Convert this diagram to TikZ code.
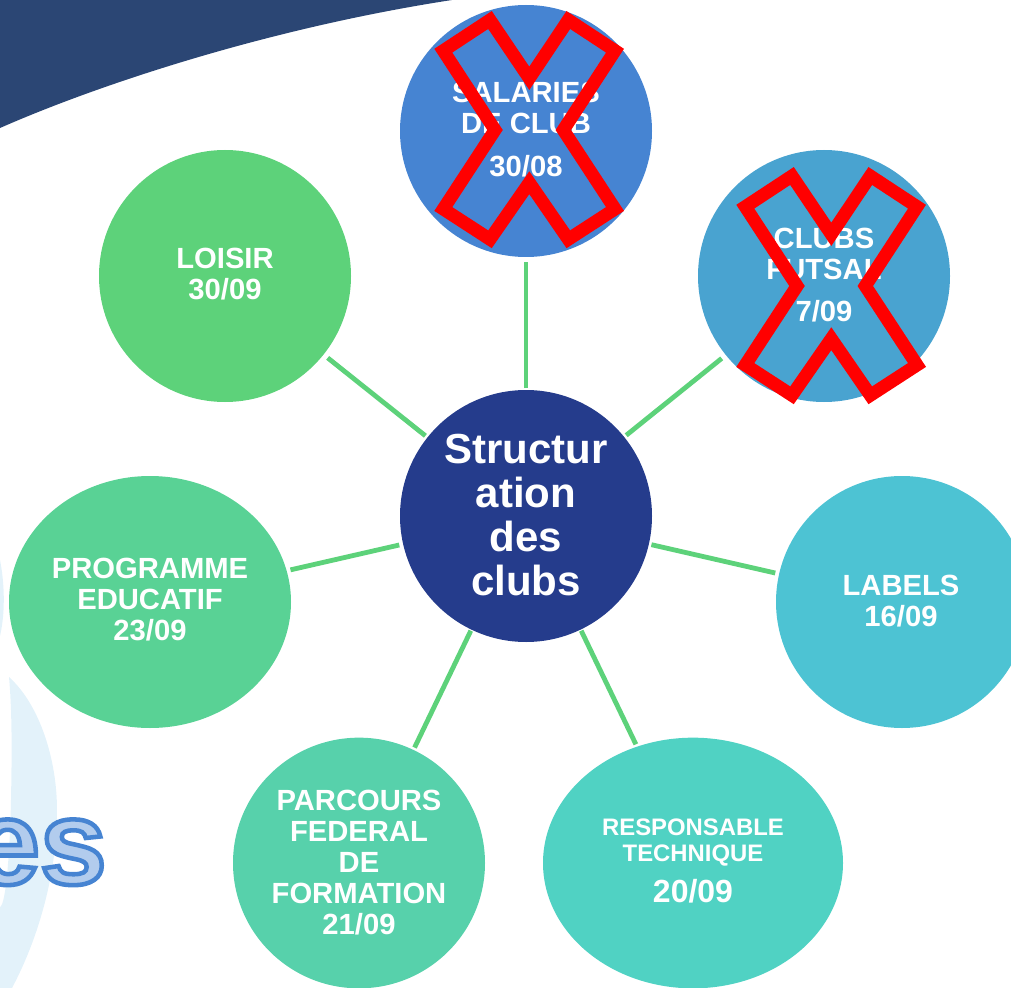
\documentclass[tikz,border=0pt]{standalone}
\usepackage{fontspec}
\setmainfont{Liberation Sans}
\usetikzlibrary{shapes.geometric}
\definecolor{cCenter}{HTML}{253C8C}
\definecolor{cLoisir}{HTML}{5DD27A}
\definecolor{cProg}{HTML}{59D295}
\definecolor{cParc}{HTML}{57D1AB}
\definecolor{cResp}{HTML}{50D2C3}
\definecolor{cLab}{HTML}{4DC3D3}
\definecolor{cFut}{HTML}{49A3D0}
\definecolor{cSal}{HTML}{4684D2}
\definecolor{cBanner}{HTML}{2B4674}
\definecolor{cPale}{HTML}{E3F2FA}
\newcommand{\crossmark}[2]{%
  \draw[crossline,shift={(#1,#2)}]
    (-86,-79.3) -- (-39.3,-110) -- (0,-51.7) -- (39,-110) -- (85.7,-79.3) -- (34,0)
    -- (85.7,79) -- (39,109.3) -- (0,52.7) -- (-39.3,109.3) -- (-86,79) -- (-34.3,0) -- cycle;}
\tikzset{
  bubble/.style={ellipse,inner sep=0pt,outer sep=0pt,minimum width=#1*0.75pt},
  lbl/.style={text=white,align=center,inner sep=0pt,font=\fontsize{21.9}{23.2}\selectfont\bfseries},
  link/.style={draw=cLoisir,line width=3.6pt},
  crossline/.style={draw=red,line width=9.75pt,miter limit=10,line join=miter}
}
\begin{document}
\begin{tikzpicture}[x=0.75pt,y=-0.75pt]
\useasboundingbox (0,0) rectangle (1011,988);
\clip (0,0) rectangle (1011,988);
% background decoration
\fill[cBanner] (0,0) -- (0,128) .. controls (100,84) and (270,28) .. (452,0) -- cycle;
\fill[cPale] (9,677) .. controls (40,705) and (57,760) .. (57,810)
  .. controls (57,880) and (35,945) .. (12,988) -- (0,988) -- (0,907)
  .. controls (6,905) and (10,850) .. (11,800) .. controls (12,750) and (12,710) .. (9,677) -- cycle;
\fill[cPale] (0,560) .. controls (4,580) and (6,610) .. (0,636) -- cycle;
\node[inner sep=0pt,anchor=base east] (es) at (107,884)
  {\special{pdf: code q 2 Tr 3.4 w 0.275 0.518 0.824 RG 0.7 0.8 0.93 rg}\fontsize{90}{90}\selectfont\bfseries es\special{pdf: code Q}};
% bubbles
\node[bubble=252,minimum height=189pt,fill=cCenter] (center) at (526,516) {};
\node[bubble=252,minimum height=189pt,fill=cSal] (sal) at (526,131) {};
\node[bubble=252,minimum height=189pt,fill=cFut] (fut) at (824,276) {};
\node[bubble=252,minimum height=189pt,fill=cLab] (lab) at (902,602) {};
\node[bubble=300,minimum height=188pt,fill=cResp] (resp) at (693,863) {};
\node[bubble=252,minimum height=188pt,fill=cParc] (parc) at (359,863) {};
\node[bubble=282,minimum height=189pt,fill=cProg] (prog) at (150,602) {};
\node[bubble=252,minimum height=189pt,fill=cLoisir] (loisir) at (225,276) {};
% connectors
\draw[link,shorten <=1.5pt,shorten >=4pt] (center) -- (sal);
\draw[link,shorten <=2pt,shorten >=4pt] (center) -- (fut);
\draw[link,shorten <=2pt,shorten >=3pt] (center) -- (lab);
\draw[link,shorten <=1pt,shorten >=2pt] (center) -- (resp);
\draw[link,shorten <=1pt,shorten >=2pt] (center) -- (parc);
\draw[link,shorten <=3pt,shorten >=3pt] (center) -- (prog);
\draw[link,shorten <=2pt,shorten >=4pt] (center) -- (loisir);
% labels
\node[lbl,font=\fontsize{31.5}{33}\selectfont\bfseries] (tcenter) at (526,515) {Structur\\ation\\des\\clubs};
\node[lbl] (tsal) at (526,130) {SALARIES\\DE CLUB\\[9pt]30/08};
\node[lbl] (tfut) at (824,275) {CLUBS\\FUTSAL\\[8pt]7/09};
\node[lbl] (tlab) at (901,601) {LABELS\\16/09};
\node[lbl] (tresp) at (693,861) {\fontsize{17.9}{23}\selectfont RESPONSABLE\\[-3.75pt]\fontsize{17.9}{23}\selectfont TECHNIQUE\\[7.25pt]\fontsize{24}{23}\selectfont 20/09};
\node[lbl] (tparc) at (359,862.5) {PARCOURS\\FEDERAL\\DE\\FORMATION\\21/09};
\node[lbl] (tprog) at (150,600) {PROGRAMME\\EDUCATIF\\23/09};
\node[lbl] (tloisir) at (225,274) {LOISIR\\30/09};
% cancel marks
\crossmark{529.3}{130}
\crossmark{831.3}{286}
\end{tikzpicture}
\end{document}
